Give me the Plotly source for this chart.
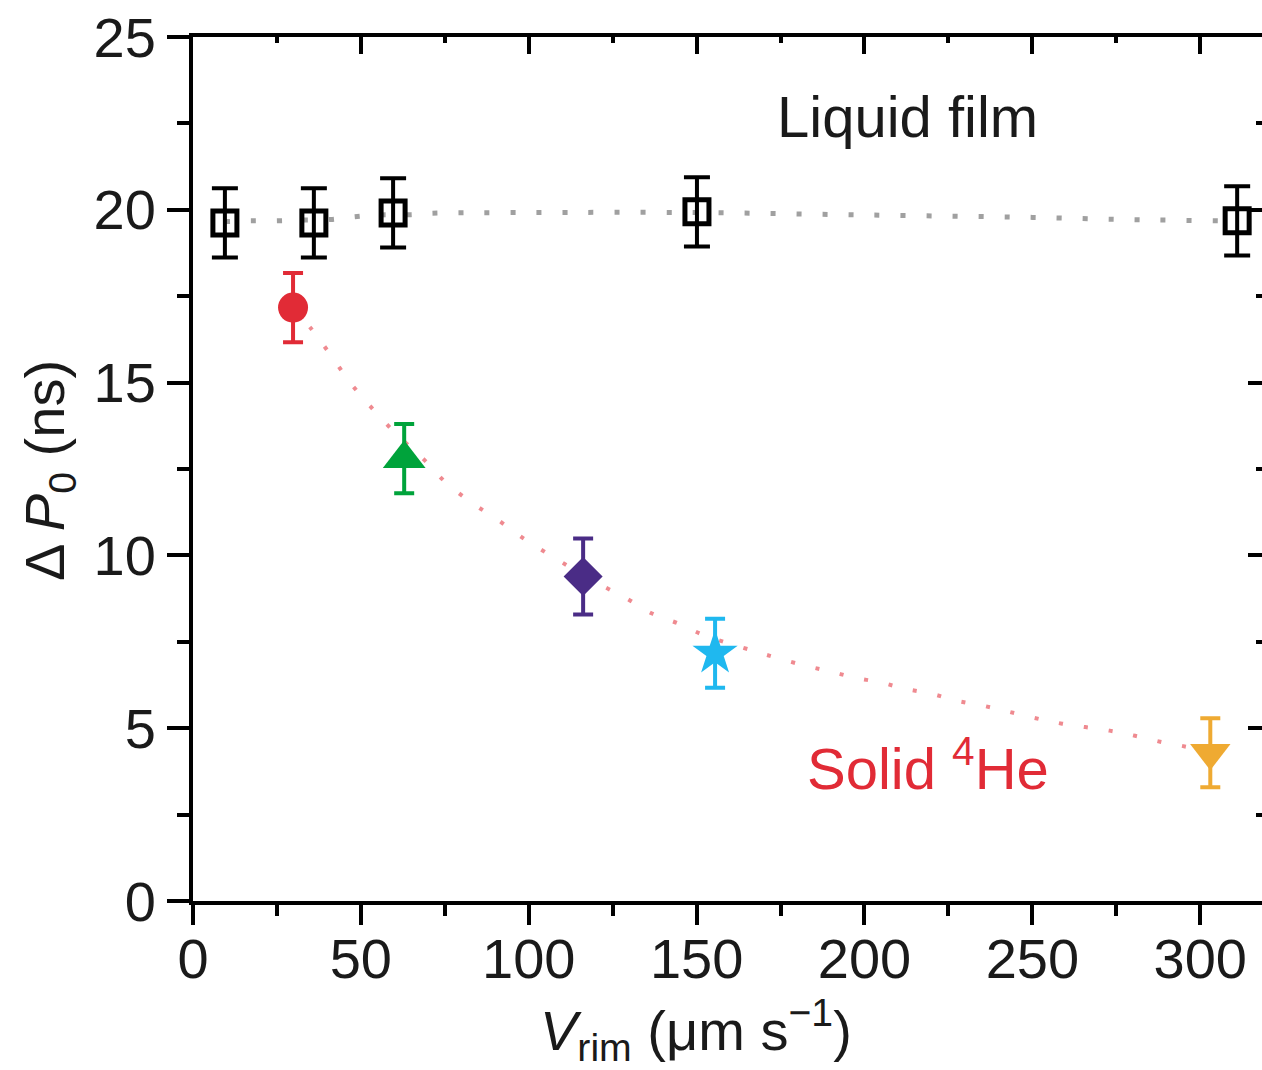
import plotly.graph_objects as go

# ---------------- data ----------------
liquid_x = [9.5, 36.0, 59.6, 150.1, 311.0]
liquid_y = [19.62, 19.62, 19.91, 19.94, 19.68]
liquid_err = [1.0, 1.0, 1.0, 1.0, 1.0]

liquid_fit_x = [9.5, 17, 25, 31, 41, 48, 55, 65, 71, 100, 150, 200, 250, 276, 291, 306, 311]
liquid_fit_y = [19.66, 19.68, 19.68, 19.7, 19.72, 19.8, 19.85, 19.86, 19.9, 19.92, 19.92, 19.85, 19.78, 19.72, 19.7, 19.68, 19.68]

solid_x = [29.8, 62.9, 116.2, 155.5, 303.0]
solid_y = [17.17, 12.8, 9.39, 7.17, 4.29]
solid_err = [1.0, 1.0, 1.1, 1.0, 1.0]

solid_fit_x = [29.8, 35.7, 41.7, 46.8, 53.3, 61.0, 68.5, 75.4, 83.4, 91.2, 97.4, 105.8, 121.0,
               128.7, 136.7, 144.5, 152.0, 166.5, 173.7, 182.3, 189.8, 197.2, 205.0, 212.0,
               219.8, 227.3, 235.4, 242.8, 250.5, 258.9, 273.0, 280.6, 288.4, 296.0, 303.0]
solid_fit_y = [17.17, 16.5, 15.7, 15.0, 14.26, 13.47, 12.8, 12.1, 11.5, 11.0, 10.56, 10.04, 9.17,
               8.78, 8.32, 8.03, 7.7, 7.25, 7.04, 6.81, 6.64, 6.46, 6.32, 6.14,
               6.0, 5.8, 5.65, 5.48, 5.3, 5.13, 4.93, 4.78, 4.6, 4.46, 4.3]

x_ticks = [0, 50, 100, 150, 200, 250, 300]
y_ticks = [0, 5, 10, 15, 20, 25]

# ---------------- styles ----------------
solid_colors = ["#e12b36", "#00a33b", "#4a2c86", "#1fb8ef", "#efaa32"]
solid_symbols = ["circle", "triangle-up", "diamond", "star", "triangle-down"]
solid_sizes = [30, 37, 30, 34, 35]

FONT = "Liberation Sans, Arial, Helvetica, sans-serif"
X_MAX = 318.4

fig = go.Figure()

# dotted fit lines
fig.add_trace(go.Scatter(
    x=liquid_fit_x, y=liquid_fit_y, mode="lines", line_shape="spline",
    line=dict(color="#a0a0a0", width=5, dash="5px,21px"), hoverinfo="skip"))
fig.add_trace(go.Scatter(
    x=solid_fit_x, y=solid_fit_y, mode="lines", line_shape="spline",
    line=dict(color="rgba(228,60,70,0.6)", width=4, dash="4px,21px"), hoverinfo="skip"))

# liquid film points
fig.add_trace(go.Scatter(
    x=liquid_x, y=liquid_y, mode="markers",
    marker=dict(symbol="square-open", size=24, color="black", line=dict(width=5, color="black")),
    error_y=dict(type="data", array=liquid_err, visible=True, color="black", thickness=4, width=13)))

# solid points
for xv, yv, ev, c, s, sz in zip(solid_x, solid_y, solid_err, solid_colors, solid_symbols, solid_sizes):
    fig.add_trace(go.Scatter(
        x=[xv], y=[yv], mode="markers",
        marker=dict(symbol=s, size=sz, color=c, line=dict(width=0)),
        error_y=dict(type="data", array=[ev], visible=True, color=c, thickness=4, width=10)))

# invisible trace to anchor mirror axes
fig.add_trace(go.Scatter(x=[0], y=[0], xaxis="x2", yaxis="y2", mode="markers",
                         marker=dict(opacity=0), hoverinfo="skip"))

fig.update_layout(
    width=1262, height=1070,
    margin=dict(l=193, r=0, t=37, b=169),
    paper_bgcolor="white", plot_bgcolor="white",
    showlegend=False,
    font=dict(family=FONT, size=56, color="#1a1a1a"),
    xaxis=dict(range=[0, X_MAX], tickvals=x_ticks, ticktext=[str(v) for v in x_ticks],
               showgrid=False, zeroline=False, showline=True, linecolor="black", linewidth=4,
               ticks="outside", ticklen=20, tickwidth=4, tickcolor="black",
               ticklabelstandoff=-14,
               minor=dict(dtick=25, tick0=0, ticks="outside", ticklen=11, tickwidth=4, tickcolor="black"),
               tickfont=dict(size=56, color="#1a1a1a", family=FONT)),
    yaxis=dict(range=[0, 25], tickvals=y_ticks, ticktext=[str(v) for v in y_ticks],
               showgrid=False, zeroline=False, showline=True, linecolor="black", linewidth=4,
               ticks="outside", ticklen=22, tickwidth=4, tickcolor="black",
               minor=dict(dtick=2.5, tick0=0, ticks="outside", ticklen=12, tickwidth=4, tickcolor="black"),
               tickfont=dict(size=56, color="#1a1a1a", family=FONT)),
    xaxis2=dict(range=[0, X_MAX], overlaying="x", side="top", matches="x",
                tickvals=x_ticks, showticklabels=False, showgrid=False, zeroline=False,
                showline=True, linecolor="black", linewidth=4,
                ticks="inside", ticklen=17, tickwidth=4, tickcolor="black",
                minor=dict(dtick=25, tick0=0, ticks="inside", ticklen=6, tickwidth=4, tickcolor="black")),
    yaxis2=dict(range=[0, 25], overlaying="y", side="right", matches="y",
                tickvals=y_ticks, showticklabels=False, showgrid=False, zeroline=False,
                showline=False,
                ticks="inside", ticklen=14, tickwidth=4, tickcolor="black",
                minor=dict(dtick=2.5, tick0=0, ticks="inside", ticklen=6, tickwidth=4, tickcolor="black")),
)

# annotations
fig.add_annotation(x=212.7, y=22.7, xref="x", yref="y", text="Liquid film", showarrow=False,
                   font=dict(size=58, color="#1a1a1a", family=FONT), xanchor="center", yanchor="middle")
fig.add_annotation(x=219, y=3.95, xref="x", yref="y", text="Solid <sup>4</sup>He", showarrow=False,
                   font=dict(size=58, color="#e12b36", family=FONT), xanchor="center", yanchor="middle")

# axis titles
fig.add_annotation(x=(696 - 193) / 1069, y=-(1030 - 901) / 864, xref="paper", yref="paper",
                   text="<i>V</i><sub>rim</sub> (μm s<sup>−1</sup>)", showarrow=False,
                   font=dict(size=56, color="#1a1a1a", family=FONT), xanchor="center", yanchor="middle")
fig.add_annotation(x=(48 - 193) / 1069, y=(901 - 471) / 864, xref="paper", yref="paper",
                   text="Δ <i>P</i><sub>0</sub> (ns)", showarrow=False, textangle=-90,
                   font=dict(size=56, color="#1a1a1a", family=FONT), xanchor="center", yanchor="middle")

fig.write_html("out.html")
